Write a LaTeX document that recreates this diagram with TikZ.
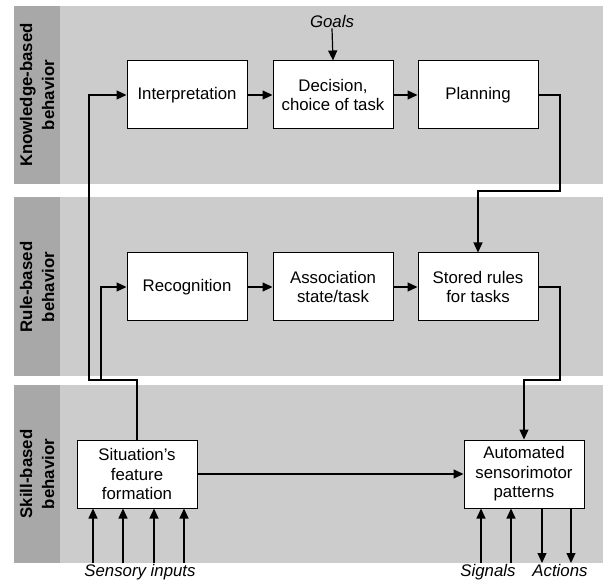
\documentclass[tikz,border=0pt]{standalone}
\usepackage{fontspec}
\setmainfont{Liberation Sans}
\usepackage{xcolor}
\usetikzlibrary{arrows.meta,positioning}
\definecolor{bandgray}{RGB}{204,204,204}
\definecolor{stripgray}{RGB}{168,168,168}
\begin{document}
\begin{tikzpicture}[x=1pt,y=-1pt,
  font=\fontsize{16.8}{19.5}\selectfont,
  box/.style={draw,line width=1pt,fill=white,minimum width=120pt,minimum height=68pt,
    align=center,inner sep=2pt},
  lbl/.style={rotate=90,align=center,font=\fontsize{16.8}{22}\selectfont\bfseries},
  io/.style={font=\fontsize{16.8}{19.5}\selectfont\itshape,inner sep=1pt},
  ar/.style={-{Triangle[length=10pt,width=9pt]},line width=1.2pt}]
\useasboundingbox (0,0) rectangle (603,580);
% --- three behaviour bands ---
\fill[bandgray] (14,6) rectangle (603,184);
\fill[bandgray] (14,197) rectangle (603,376);
\fill[bandgray] (14,385) rectangle (603,563);
\fill[stripgray] (14,6) rectangle (60,184);
\fill[stripgray] (14,197) rectangle (60,376);
\fill[stripgray] (14,385) rectangle (60,563);
\node[lbl] (kb) at (37,95) {Knowledge-based\\behavior};
\node[lbl] (rb) at (37,287) {Rule-based\\behavior};
\node[lbl] (sb) at (37,474) {Skill-based\\behavior};
% --- knowledge level ---
\node[box] (interp) at (187,95) {Interpretation};
\node[box,right=25pt of interp] (decision) {Decision,\\choice of task};
\node[box,right=24pt of decision] (planning) {Planning};
\node[io] (goals) at (332,21) {Goals};
% --- rule level ---
\node[box] (recog) at (187,287) {Recognition};
\node[box,right=25pt of recog] (assoc) {Association\\state/task};
\node[box,right=24pt of assoc] (stored) {Stored rules\\for tasks};
% --- skill level ---
\node[box] (situ) at (137,474) {Situation's\\feature\\formation};
\node[box] (auto) at (524,474) {Automated\\sensorimotor\\patterns};
\node[io,anchor=base] (sens) at (140,576) {Sensory inputs};
\node[io,anchor=base] (sig) at (488,576) {Signals};
\node[io,anchor=base] (act) at (560,576) {Actions};
% --- connectors ---
\draw[ar] (goals.south) -- (decision.north);
\draw[ar] (interp) -- (decision);
\draw[ar] (decision) -- (planning);
\draw[ar] (recog) -- (assoc);
\draw[ar] (assoc) -- (stored);
\coordinate (kr) at (560,191);
\draw[ar] (planning.east) -| (kr) -| (stored.north);
\coordinate (rs) at (560,380);
\draw[ar] (stored.east) -| (rs) -| (auto.north);
\coordinate (sk) at (89,380);
\coordinate (sr) at (101,380);
\draw[ar] (situ.north) |- (sk) |- (interp.west);
\draw[ar] (sr) |- (recog.west);
\draw[ar] (situ) -- (auto);
\foreach \dx [count=\i] in {-44,-14,17,47}
  \coordinate (in\i) at ([xshift=\dx pt]situ.center |- 0,563);
\foreach \i in {1,...,4}
  \draw[ar] (in\i) -- (in\i |- situ.south);
\coordinate (sg1) at ([xshift=-43pt]auto.center |- 0,563);
\coordinate (sg2) at ([xshift=-13pt]auto.center |- 0,563);
\coordinate (ac1) at ([xshift=18pt]auto.center |- 0,563);
\coordinate (ac2) at ([xshift=47pt]auto.center |- 0,563);
\draw[ar] (sg1) -- (sg1 |- auto.south);
\draw[ar] (sg2) -- (sg2 |- auto.south);
\draw[ar] (ac1 |- auto.south) -- (ac1);
\draw[ar] (ac2 |- auto.south) -- (ac2);
\end{tikzpicture}
\end{document}
